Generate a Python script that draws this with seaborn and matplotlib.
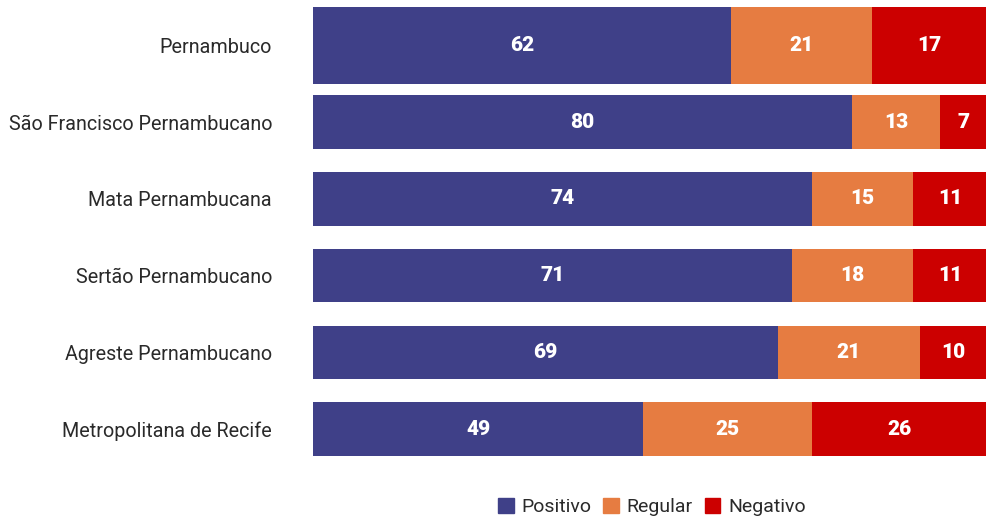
import matplotlib
matplotlib.use("Agg")
import matplotlib.pyplot as plt
import matplotlib.patches as mpatches
import pandas as pd
import seaborn as sns

# data
regioes = ["Pernambuco", "São Francisco Pernambucano", "Mata Pernambucana",
           "Sertão Pernambucano", "Agreste Pernambucano", "Metropolitana de Recife"]
positivo = [62, 80, 74, 71, 69, 49]
regular = [21, 13, 15, 18, 21, 25]
negativo = [17, 7, 11, 11, 10, 26]

cores = {"Positivo": "#3F4088", "Regular": "#E67C41", "Negativo": "#CC0000"}

df = pd.DataFrame({"regiao": regioes, "Positivo": positivo,
                   "Regular": regular, "Negativo": negativo})
df["ate_reg"] = df["Positivo"] + df["Regular"]
df["total"] = df["ate_reg"] + df["Negativo"]

sns.set_style("white")
plt.rcParams["font.family"] = ["Roboto", "DejaVu Sans"]

fig = plt.figure(figsize=(9.87, 5.18), dpi=100)
ax = fig.add_axes([313 / 987, 1 - 456 / 518, 1 - 313 / 987, (456 - 7) / 518])

# stacked by drawing cumulative totals on top of each other
for col, nome in [("total", "Negativo"), ("ate_reg", "Regular"), ("Positivo", "Positivo")]:
    sns.barplot(data=df, y="regiao", x=col, color=cores[nome], orient="h",
                width=0.7, saturation=1, linewidth=0, ax=ax)

# first bar (state total) is drawn thicker
for p in ax.patches:
    cy = p.get_y() + p.get_height() / 2
    if abs(cy) < 0.01:
        p.set_y(-0.5)
        p.set_height(1.0)

# value labels
for i in range(len(regioes)):
    starts = [0, positivo[i], positivo[i] + regular[i]]
    vals = [positivo[i], regular[i], negativo[i]]
    for s, v in zip(starts, vals):
        ax.text(s + v / 2, i, str(v), ha="center", va="center", color="white",
                fontsize=15, fontweight="heavy")

ax.set_xlim(0, 100)
ax.set_ylim(5.35, -0.5)
ax.set_xlabel("")
ax.set_ylabel("")
ax.set_xticks([])
ax.tick_params(axis="y", length=0, pad=29.5, labelsize=14.2, labelcolor="#2a2a2a")
for s in ax.spines.values():
    s.set_visible(False)

handles = [mpatches.Patch(color=c, label=k) for k, c in cores.items()]
leg = fig.legend(handles=handles, loc="center", bbox_to_anchor=(652 / 987, 1 - 507 / 518),
                 ncol=3, frameon=False, handlelength=0.8, handleheight=0.8,
                 handletextpad=0.4, columnspacing=0.6, labelcolor="#2a2a2a",
                 prop={"size": 14})

fig.savefig("out.png", dpi=100)
